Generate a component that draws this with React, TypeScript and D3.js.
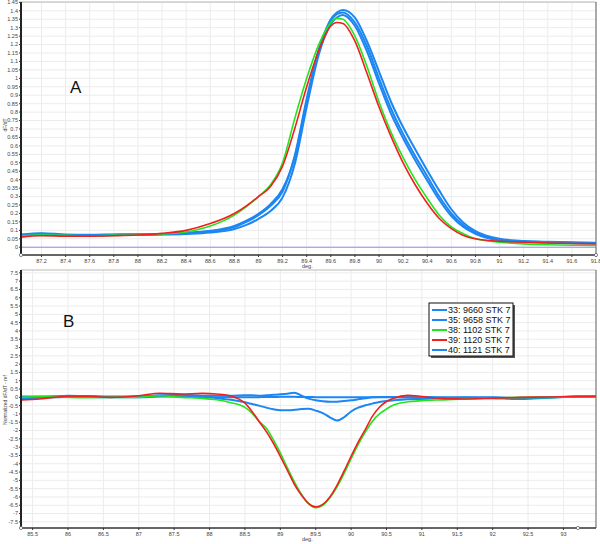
import React from 'react';
import * as d3 from 'd3';

// Panel A: melt curves (dF/dT)
const xA = [87.03, 87.2, 87.4, 87.6, 87.8, 88.0, 88.2, 88.4, 88.6, 88.8, 88.9, 89.0, 89.1, 89.2, 89.3, 89.4, 89.5, 89.6, 89.65, 89.7, 89.8, 89.9, 90.0, 90.1, 90.2, 90.3, 90.4, 90.5, 90.6, 90.7, 90.8, 91.0, 91.2, 91.4, 91.6, 91.8];
const a33 = [0.072, 0.08, 0.073, 0.072, 0.074, 0.075, 0.077, 0.083, 0.094, 0.12, 0.15, 0.19, 0.245, 0.33, 0.54, 0.88, 1.17, 1.34, 1.38, 1.39, 1.33, 1.19, 1.0, 0.82, 0.67, 0.54, 0.42, 0.3, 0.2, 0.13, 0.085, 0.045, 0.035, 0.03, 0.027, 0.025];
const a35 = [0.069, 0.077, 0.071, 0.07, 0.072, 0.073, 0.075, 0.079, 0.087, 0.108, 0.132, 0.168, 0.215, 0.295, 0.49, 0.83, 1.14, 1.32, 1.36, 1.375, 1.31, 1.16, 0.97, 0.79, 0.645, 0.515, 0.395, 0.28, 0.185, 0.12, 0.08, 0.042, 0.033, 0.028, 0.025, 0.023];
const a40 = [0.075, 0.083, 0.076, 0.074, 0.076, 0.077, 0.079, 0.085, 0.097, 0.126, 0.157, 0.198, 0.255, 0.345, 0.53, 0.86, 1.16, 1.35, 1.39, 1.405, 1.36, 1.22, 1.04, 0.86, 0.71, 0.58, 0.455, 0.335, 0.225, 0.145, 0.095, 0.05, 0.037, 0.032, 0.029, 0.027];
const a38 = [0.068, 0.072, 0.07, 0.068, 0.07, 0.072, 0.078, 0.09, 0.125, 0.19, 0.24, 0.3, 0.37, 0.5, 0.76, 1.0, 1.2, 1.33, 1.355, 1.35, 1.25, 1.07, 0.86, 0.68, 0.53, 0.4, 0.29, 0.19, 0.12, 0.08, 0.05, 0.03, 0.02, 0.015, 0.012, 0.01];
const a39 = [0.06, 0.068, 0.066, 0.066, 0.068, 0.072, 0.082, 0.1, 0.14, 0.2, 0.245, 0.3, 0.36, 0.48, 0.7, 0.95, 1.165, 1.31, 1.331, 1.325, 1.22, 1.03, 0.83, 0.655, 0.5, 0.37, 0.26, 0.17, 0.11, 0.07, 0.05, 0.035, 0.03, 0.025, 0.022, 0.02];

// Panel B: difference curves
const xB = [85.34, 85.6, 85.8, 86.0, 86.3, 86.6, 87.0, 87.3, 87.6, 87.9, 88.1, 88.3, 88.5, 88.6, 88.7, 88.8, 88.9, 89.0, 89.1, 89.2, 89.3, 89.4, 89.5, 89.6, 89.7, 89.8, 89.9, 90.0, 90.1, 90.2, 90.3, 90.4, 90.5, 90.6, 90.8, 91.0, 91.3, 91.6, 92.0, 92.4, 92.8, 93.2, 93.46];
const b33 = [0.0, 0.0, 0.05, 0.1, 0.08, 0.05, 0.05, 0.12, 0.12, 0.05, -0.05, -0.15, -0.3, -0.4, -0.5, -0.62, -0.72, -0.78, -0.78, -0.75, -0.7, -0.68, -0.8, -0.95, -1.2, -1.4, -1.2, -0.85, -0.62, -0.48, -0.38, -0.28, -0.22, -0.18, -0.12, -0.1, -0.05, -0.02, -0.05, -0.1, -0.02, 0.05, 0.05];
const b35 = [0.05, 0.05, 0.05, 0.08, 0.05, 0.02, 0.05, 0.1, 0.15, 0.1, 0.1, 0.1, 0.12, 0.12, 0.1, 0.12, 0.15, 0.18, 0.22, 0.28, 0.1, -0.08, -0.18, -0.24, -0.27, -0.26, -0.22, -0.18, -0.12, -0.06, 0.0, 0.02, 0.02, 0.02, 0.0, 0.0, -0.02, 0.0, 0.0, -0.05, 0.0, 0.05, 0.05];
const b40 = [-0.05, -0.02, 0.0, 0.02, 0.02, 0.0, 0.0, 0.05, 0.05, 0.02, 0.0, 0.0, 0.0, 0.0, 0.01, 0.02, 0.02, 0.03, 0.03, 0.03, 0.02, 0.02, 0.01, 0.0, 0.0, 0.0, 0.0, 0.0, 0.0, 0.0, 0.0, 0.0, 0.0, 0.0, 0.0, 0.02, 0.0, -0.02, -0.03, -0.05, 0.0, 0.03, 0.05];
const b38 = [0.0, 0.05, 0.05, 0.0, -0.02, 0.0, 0.0, 0.1, 0.0, -0.06, -0.15, -0.32, -0.6, -0.95, -1.45, -1.85, -2.55, -3.35, -4.25, -5.1, -5.85, -6.4, -6.65, -6.5, -6.05, -5.4, -4.6, -3.7, -2.85, -2.1, -1.45, -1.0, -0.7, -0.46, -0.27, -0.2, -0.15, -0.1, -0.05, 0.0, 0.0, 0.02, 0.02];
const b39 = [-0.15, -0.1, 0.0, 0.05, 0.05, 0.0, 0.1, 0.25, 0.2, 0.24, 0.2, 0.08, -0.35, -0.85, -1.45, -2.05, -2.75, -3.55, -4.4, -5.25, -5.9, -6.4, -6.6, -6.45, -6.0, -5.3, -4.45, -3.55, -2.7, -1.95, -1.15, -0.6, -0.25, -0.05, 0.12, 0.05, -0.08, -0.1, -0.05, 0.0, 0.02, 0.05, 0.05];

const legendNames = ['33: 9660 STK 7', '35: 9658 STK 7', '38: 1102 STK 7', '39: 1120 STK 7', '40: 1121 STK 7'];
const BLUE = '#1c86f2';
const GREEN = '#22e51e';
const RED = '#f0201e';
const legendColors = [BLUE, BLUE, GREEN, RED, BLUE];

const ticksA_y = d3.range(0, 29.5).map(i => i * 0.05);
const ticksA_x = d3.range(0, 24).map(i => 87.2 + i * 0.2);
const ticksB_y = d3.range(-15, 15.5).map(i => i * 0.5);
const ticksB_x = d3.range(0, 16).map(i => 85.5 + i * 0.5);

const fmt = (v: number) => String(+v.toFixed(2));

const W = 600;
const H = 544;
const font = 'Arial, "Liberation Sans", sans-serif';

function Panel({ x, y, ticksX, ticksY, series, seriesColors, seriesX, label, labelPos, yTitle, yTitleY, endMark, zeroLine }: any) {
  const line = d3.line<number>()
    .x((_, i) => x(seriesX[i]))
    .y(d => y(d))
    .curve(d3.curveMonotoneX);
  const [x0, x1] = x.range();
  const [y0, y1] = y.range();
  return (
    <g>
      {/* grid */}
      {ticksY.map((t: number) => (
        <line key={'gy' + t} x1={x0} x2={x1} y1={y(t)} y2={y(t)} stroke="#ececec" strokeWidth={1} />
      ))}
      {ticksX.map((t: number) => (
        <line key={'gx' + t} x1={x(t)} x2={x(t)} y1={y1} y2={y0} stroke="#ececec" strokeWidth={1} />
      ))}
      {zeroLine && <line x1={x0} x2={x1} y1={y(0)} y2={y(0)} stroke="#8c8cf5" strokeWidth={1} />}
      {/* frame */}
      <line x1={x0} x2={x1} y1={y1} y2={y1} stroke="#b8b8b0" strokeWidth={1} />
      <line x1={x1} x2={x1} y1={y1} y2={y0} stroke="#777" strokeWidth={1.2} />
      {/* curves */}
      {series.map((s: number[], i: number) => (
        <path key={'s' + i} d={line(s) || ''} fill="none" stroke={seriesColors[i]}
          strokeWidth={seriesColors[i] === BLUE ? 2 : 1.6} strokeLinejoin="round" />
      ))}
      {/* axes */}
      <line x1={x0} x2={x1} y1={y0} y2={y0} stroke="#333" strokeWidth={1.5} />
      <line x1={x0} x2={x0} y1={y1} y2={y0} stroke="#222" strokeWidth={2} />
      {ticksY.map((t: number) => (
        <g key={'ty' + t}>
          <line x1={x0 - 2} x2={x0} y1={y(t)} y2={y(t)} stroke="#333" />
          <text x={x0 - 3} y={y(t)} dy="0.35em" textAnchor="end" fontSize={5.5} fill="#444" fontFamily={font}>{fmt(t)}</text>
        </g>
      ))}
      {ticksX.map((t: number) => (
        <g key={'tx' + t}>
          <line x1={x(t)} x2={x(t)} y1={y0} y2={y0 + 2} stroke="#333" />
          <text x={x(t)} y={y0 + 8} textAnchor="middle" fontSize={5.5} fill="#444" fontFamily={font}>{fmt(t)}</text>
        </g>
      ))}
      <text x={302} y={y0 + 13} fontSize={5.5} fill="#444" fontFamily={font}>deg.</text>
      <text transform={`translate(7,${yTitleY}) rotate(-90)`} textAnchor="middle" fontSize={5} fill="#444" fontFamily={font}>{yTitle}</text>
      <text x={labelPos[0]} y={labelPos[1]} fontSize={17} fill="#111" fontFamily={font}>{label}</text>
      <circle cx={x0} cy={y0} r={1.6} fill="#fff" stroke="#555" strokeWidth={0.7} />
      <circle cx={endMark} cy={y0} r={1.6} fill="#fff" stroke="#555" strokeWidth={0.7} />
    </g>
  );
}

export default function App() {
  const xScaleA = d3.scaleLinear().domain([87.03, 91.8]).range([21, 596]);
  const yScaleA = d3.scaleLinear().domain([-0.046, 1.452]).range([255, 2]);
  const xScaleB = d3.scaleLinear().domain([85.336, 93.46]).range([21, 596]);
  const yScaleB = d3.scaleLinear().domain([-7.87, 7.67]).range([528, 270]);

  // draw order: blues first, then green, red on top
  const orderA = [a33, a35, a40, a38, a39];
  const orderB = [b33, b35, b40, b38, b39];
  const orderColors = [BLUE, BLUE, BLUE, GREEN, RED];

  const legX = 429;
  const legY = 303;
  const rowH = 10;

  return (
    <svg width={W} height={H} style={{ position: 'absolute', left: 0, top: 0, background: '#fff' }}>
      <rect width={W} height={H} fill="#fff" />
      <Panel x={xScaleA} y={yScaleA} ticksX={ticksA_x} ticksY={ticksA_y} series={orderA} seriesColors={orderColors} seriesX={xA}
        label="A" labelPos={[70, 93]} yTitle="dF/dT" yTitleY={125} endMark={596} zeroLine />
      <Panel x={xScaleB} y={yScaleB} ticksX={ticksB_x} ticksY={ticksB_y} series={orderB} seriesColors={orderColors} seriesX={xB}
        label="B" labelPos={[63, 327]} yTitle="Normalized dF/dT - ref" yTitleY={400} endMark={578} zeroLine={false} />
      {/* legend */}
      <rect x={legX + 2} y={legY + 2} width={84} height={53} fill="#555" />
      <rect x={legX} y={legY} width={84} height={53} fill="#fff" stroke="#111" strokeWidth={1} />
      {legendNames.map((n, i) => (
        <g key={n}>
          <line x1={legX + 3} x2={legX + 18} y1={legY + 7 + i * rowH} y2={legY + 7 + i * rowH} stroke={legendColors[i]} strokeWidth={2} />
          <text x={legX + 19} y={legY + 7 + i * rowH} dy="0.35em" fontSize={9} fill="#111" fontFamily={font}>{n}</text>
        </g>
      ))}
    </svg>
  );
}
